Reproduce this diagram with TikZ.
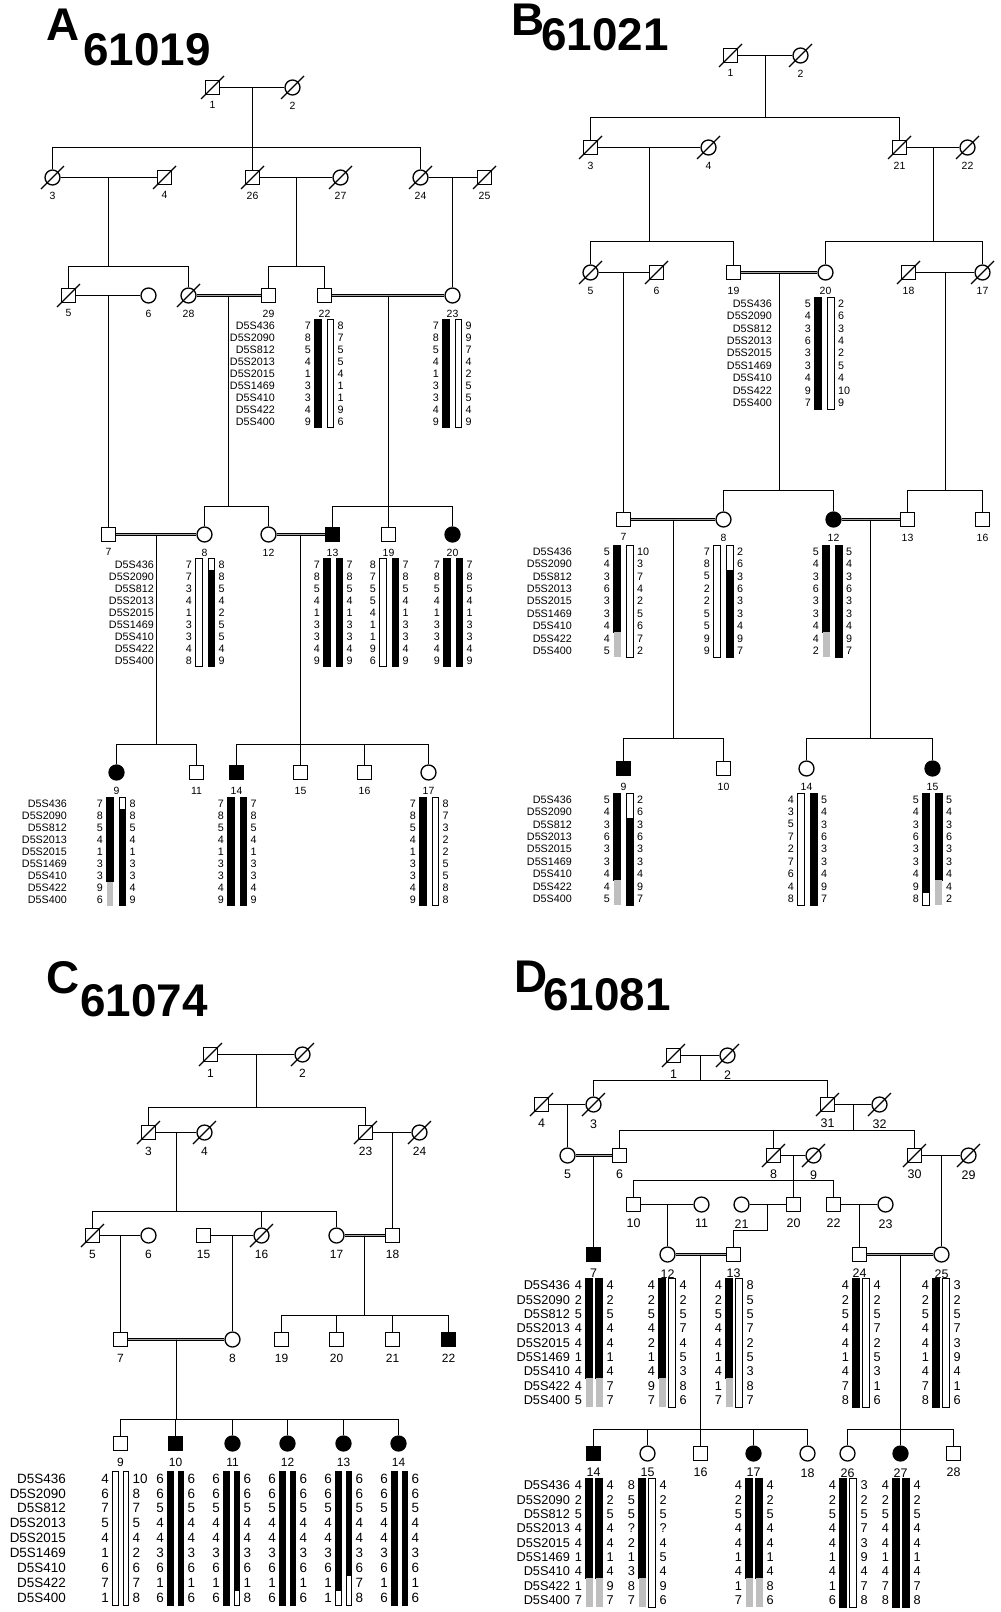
\documentclass[tikz,border=0pt]{standalone}
\usepackage{fontspec}
\setmainfont{Liberation Sans}
\usetikzlibrary{calc}

\tikzset{
  sq/.style={draw, rectangle, minimum size=14bp, inner sep=0pt, line width=1.3bp, fill=white},
  ci/.style={draw, circle, minimum size=15bp, inner sep=0pt, line width=1.3bp, fill=white},
  aff/.style={fill=black},
  lab/.style={font=\fontsize{10.5}{12}\selectfont},
  pid/.style={label={[lab]below:#1}},
  cons/.style={double=black!35, double distance=1.8bp, line width=0.9bp},
  hn/.style={inner sep=0pt, font=\fontsize{11}{12}\selectfont},
  hk/.style={fill=black, draw=black, line width=0.5bp},
  hg/.style={fill=black!25},
  hw/.style={fill=white, draw=black, line width=0.8bp},
  ttl/.style={inner sep=0pt, anchor=base west, font=\fontsize{46}{50}\selectfont\bfseries}
}

% marker names, right aligned
\newcommand\mknames[3]{%
  \foreach \mk [count=\i] in {D5S436,D5S2090,D5S812,D5S2013,D5S2015,D5S1469,D5S410,D5S422,D5S400}
    \node[hn, anchor=east] (#1\i) at ({#2},{#3+(\i-1)*\dy}) {\mk};}

% haplotype: name, bar x, first row y, left alleles, right alleles, bar parts
\newcommand\hap[7]{%
  \foreach \ty/\ra/\rb in {#6}
    \path[\ty] ({#2},{#3+(\ra-1.5)*\dy}) rectangle ({#2+\bw},{#3+(\rb-0.5)*\dy});
  \foreach \ty/\ra/\rb in {#7}
    \path[\ty] ({#2+\bp},{#3+(\ra-1.5)*\dy}) rectangle ({#2+\bp+\bw},{#3+(\rb-0.5)*\dy});
  \foreach \v [count=\i] in {#4}
    \node[hn, anchor=east] (#1l\i) at ({#2-3},{#3+(\i-1)*\dy}) {\v};
  \foreach \v [count=\i] in {#5}
    \node[hn, anchor=west] (#1r\i) at ({#2+\bp+\bw+3.5},{#3+(\i-1)*\dy}) {\v};}

% line of descent: parents, sibship y, children
\newcommand\kids[4]{%
  \coordinate (mid) at ($(#1)!0.5!(#2)$);
  \foreach \ch in {#4} \draw (mid) -- (mid |- 0,#3) -| (\ch.north);}

\begin{document}
\begin{tikzpicture}[x=1bp, y=-1bp, line width=1.3bp, label distance=5bp,
  every label/.style={inner sep=1pt}]
\useasboundingbox (-0.5,-0.5) rectangle (999.5,1611.5);

% ---------------- A
\begin{scope}[lab/.style={font=\fontsize{10.5}{12}\selectfont},
  hn/.style={inner sep=0pt, font=\fontsize{10.8}{12}\selectfont}]
\def\dy{12}\def\bw{6.5}\def\bp{12.5}
\node[ttl] (ta) at (45,40) {A};
\node[ttl] (tan) at (82,65) {61019};
% generation I and II
\node[sq, pid=1] (a1) at (212,87) {};
\node[ci, pid=2] (a2) at (292,87) {};
\node[ci, pid=3] (a3) at (52,177) {};
\node[sq, pid=4] (a4) at (164,177) {};
\node[sq, pid=26] (a26) at (252,177) {};
\node[ci, pid=27] (a27) at (340,177) {};
\node[ci, pid=24] (a24) at (420,177) {};
\node[sq, pid=25] (a25) at (484,177) {};
% generation III
\node[sq, pid=5] (a5) at (68,295) {};
\node[ci, pid=6] (a6) at (148,295) {};
\node[ci, pid=28] (a28) at (188,295) {};
\node[sq, pid=29] (a29) at (268,295) {};
\node[sq, pid=22] (a22) at (324,295) {};
\node[ci, pid=23] (a23) at (452,295) {};
% generation IV
\node[sq, pid=7] (a7) at (108,534) {};
\node[ci, pid=8] (a8) at (204,534) {};
\node[ci, pid=12] (a12) at (268,534) {};
\node[sq, aff, pid=13] (a13) at (332,534) {};
\node[sq, pid=19] (a19) at (388,534) {};
\node[ci, aff, pid=20] (a20) at (452,534) {};
% generation V
\node[ci, aff, pid=9] (a9) at (116,772) {};
\node[sq, pid=11] (a11) at (196,772) {};
\node[sq, aff, pid=14] (a14) at (236,772) {};
\node[sq, pid=15] (a15) at (300,772) {};
\node[sq, pid=16] (a16) at (364,772) {};
\node[ci, pid=17] (a17) at (428,772) {};
% deceased
\foreach \n in {a1,a2,a3,a4,a26,a27,a24,a25,a5,a28}
  \draw (\n.center) ++(-11.5bp,-11.5bp) -- ++(23bp,23bp);
% couples
\draw (a1) -- (a2);
\draw (a3) -- (a4);
\draw (a26) -- (a27);
\draw (a24) -- (a25);
\draw (a5) -- (a6);
\draw[cons] (a28) -- (a29);
\draw[cons] (a22) -- (a23);
\draw[cons] (a7) -- (a8);
\draw[cons] (a12) -- (a13);
% descent
\kids{a1}{a2}{147}{a3,a26,a24}
\kids{a3}{a4}{266}{a5,a28}
\kids{a26}{a27}{266}{a29,a22}
\kids{a24}{a25}{266}{a23}
\kids{a5}{a6}{400}{a7}
\kids{a28}{a29}{506}{a8,a12}
\kids{a22}{a23}{506}{a13,a19,a20}
\kids{a7}{a8}{744}{a9,a11}
\kids{a12}{a13}{744}{a14,a15,a16,a17}
% haplotypes
\mknames{a3g}{275}{325}
\hap{a22h}{314}{325}{7,8,5,4,1,3,3,4,9}{8,7,5,5,4,1,1,9,6}{hk/1/9}{hw/1/9}
\hap{a23h}{442}{325}{7,8,5,4,1,3,3,4,9}{9,9,7,4,2,5,5,4,9}{hk/1/9}{hw/1/9}
\mknames{a4g}{154}{564}
\hap{a8h}{195}{564}{7,7,3,4,1,3,3,4,8}{8,8,5,4,2,5,5,4,9}{hw/1/9}{hw/1/1,hk/2/9}
\hap{a13h}{323}{564}{7,8,5,4,1,3,3,4,9}{7,8,5,4,1,3,3,4,9}{hk/1/9}{hk/1/9}
\hap{a19h}{379}{564}{8,7,5,5,4,1,1,9,6}{7,8,5,4,1,3,3,4,9}{hw/1/9}{hk/1/9}
\hap{a20h}{443}{564}{7,8,5,4,1,3,3,4,9}{7,8,5,4,1,3,3,4,9}{hk/1/9}{hk/1/9}
\mknames{a5g}{67}{803}
\hap{a9h}{106}{803}{7,8,5,4,1,3,3,9,6}{8,8,5,4,1,3,3,4,9}{hk/1/7,hg/8/9}{hw/1/1,hk/2/9}
\hap{a14h}{227}{803}{7,8,5,4,1,3,3,4,9}{7,8,5,4,1,3,3,4,9}{hk/1/9}{hk/1/9}
\hap{a17h}{419}{803}{7,8,5,4,1,3,3,4,9}{8,7,3,2,2,5,5,8,8}{hk/1/9}{hw/1/9}
\end{scope}

% ---------------- B
\begin{scope}[lab/.style={font=\fontsize{10.5}{12}\selectfont},
  hn/.style={inner sep=0pt, font=\fontsize{10.8}{12}\selectfont}]
\def\dy{12.4}\def\bw{7}\def\bp{12.5}
\node[ttl] (tb) at (510,35) {B};
\node[ttl] (tbn) at (540,50) {61021};
% generation I and II
\node[sq, pid=1] (b1) at (730,55) {};
\node[ci, pid=2] (b2) at (800,55) {};
\node[sq, pid=3] (b3) at (590,147) {};
\node[ci, pid=4] (b4) at (708,147) {};
\node[sq, pid=21] (b21) at (899,147) {};
\node[ci, pid=22] (b22) at (967,147) {};
% generation III
\node[ci, pid=5] (b5) at (590,272) {};
\node[sq, pid=6] (b6) at (656,272) {};
\node[sq, pid=19] (b19) at (733,272) {};
\node[ci, pid=20] (b20) at (825,272) {};
\node[sq, pid=18] (b18) at (908,272) {};
\node[ci, pid=17] (b17) at (982,272) {};
% generation IV
\node[sq, pid=7] (b7) at (623,519) {};
\node[ci, pid=8] (b8) at (723,519) {};
\node[ci, aff, pid=12] (b12) at (833,519) {};
\node[sq, pid=13] (b13) at (907,519) {};
\node[sq, pid=16] (b16) at (982,519) {};
% generation V
\node[sq, aff, pid=9] (b9) at (623,768) {};
\node[sq, pid=10] (b10) at (723,768) {};
\node[ci, pid=14] (b14) at (806,768) {};
\node[ci, aff, pid=15] (b15) at (932,768) {};
% deceased
\foreach \n in {b1,b2,b3,b4,b21,b22,b5,b6,b18,b17}
  \draw (\n.center) ++(-11.5bp,-11.5bp) -- ++(23bp,23bp);
% couples
\draw (b1) -- (b2);
\draw (b3) -- (b4);
\draw (b21) -- (b22);
\draw (b5) -- (b6);
\draw[cons] (b19) -- (b20);
\draw (b18) -- (b17);
\draw[cons] (b7) -- (b8);
\draw[cons] (b12) -- (b13);
% descent
\kids{b1}{b2}{117}{b3,b21}
\kids{b3}{b4}{241}{b5,b19}
\kids{b21}{b22}{241}{b20,b17}
\kids{b5}{b6}{400}{b7}
\kids{b19}{b20}{490}{b8,b12}
\kids{b18}{b17}{490}{b13,b16}
\kids{b7}{b8}{738}{b9,b10}
\kids{b12}{b13}{738}{b14,b15}
% haplotypes
\mknames{b3g}{772}{303}
\hap{b20h}{814}{303}{5,4,3,6,3,3,4,9,7}{2,6,3,4,2,5,4,10,9}{hk/1/9}{hw/1/9}
\mknames{b4g}{572}{551}
\hap{b7h}{613}{551}{5,4,3,6,3,3,4,4,5}{10,3,7,4,2,5,6,7,2}{hk/1/7,hg/8/9}{hw/1/9}
\hap{b8h}{713}{551}{7,8,5,2,2,5,5,9,9}{2,6,3,6,3,3,4,9,7}{hw/1/9}{hw/1/2,hk/3/9}
\hap{b12h}{822}{551}{5,4,3,6,3,3,4,4,2}{5,4,3,6,3,3,4,9,7}{hk/1/7,hg/8/9}{hk/1/9}
\mknames{b5g}{572}{799}
\hap{b9h}{613}{799}{5,4,3,6,3,3,4,4,5}{2,6,3,6,3,3,4,9,7}{hk/1/7,hg/8/9}{hw/1/2,hk/3/9}
\hap{b14h}{797}{799}{4,3,5,7,2,7,6,4,8}{5,4,3,6,3,3,4,9,7}{hw/1/9}{hk/1/9}
\hap{b15h}{922}{799}{5,4,3,6,3,3,4,9,8}{5,4,3,6,3,3,4,4,2}{hk/1/8,hw/9/9}{hk/1/7,hg/8/9}
\end{scope}

% ---------------- C
\begin{scope}[lab/.style={font=\fontsize{12}{13}\selectfont},
  hn/.style={inner sep=0pt, font=\fontsize{13.5}{14}\selectfont}]
\def\dy{14.9}\def\bw{5.5}\def\bp{10.5}
\node[ttl] (tc) at (45,993) {C};
\node[ttl] (tcn) at (79,1016) {61074};
% generation I and II
\node[sq, pid=1] (c1) at (210,1054) {};
\node[ci, pid=2] (c2) at (302,1054) {};
\node[sq, pid=3] (c3) at (148,1132) {};
\node[ci, pid=4] (c4) at (204,1132) {};
\node[sq, pid=23] (c23) at (365,1132) {};
\node[ci, pid=24] (c24) at (419,1132) {};
% generation III
\node[sq, pid=5] (c5) at (92,1235) {};
\node[ci, pid=6] (c6) at (148,1235) {};
\node[sq, pid=15] (c15) at (203,1235) {};
\node[ci, pid=16] (c16) at (261,1235) {};
\node[ci, pid=17] (c17) at (336,1235) {};
\node[sq, pid=18] (c18) at (392,1235) {};
% generation IV
\node[sq, pid=7] (c7) at (120,1339) {};
\node[ci, pid=8] (c8) at (232,1339) {};
\node[sq, pid=19] (c19) at (281,1339) {};
\node[sq, pid=20] (c20) at (336,1339) {};
\node[sq, pid=21] (c21) at (392,1339) {};
\node[sq, aff, pid=22] (c22) at (448,1339) {};
% generation V
\node[sq, pid=9] (c9) at (120,1443) {};
\node[sq, aff, pid=10] (c10) at (175,1443) {};
\node[ci, aff, pid=11] (c11) at (232,1443) {};
\node[ci, aff, pid=12] (c12) at (287,1443) {};
\node[ci, aff, pid=13] (c13) at (343,1443) {};
\node[ci, aff, pid=14] (c14) at (398,1443) {};
% deceased
\foreach \n in {c1,c2,c3,c4,c23,c24,c5,c16}
  \draw (\n.center) ++(-11.5bp,-11.5bp) -- ++(23bp,23bp);
% couples
\draw (c1) -- (c2);
\draw (c3) -- (c4);
\draw (c23) -- (c24);
\draw (c5) -- (c6);
\draw (c15) -- (c16);
\draw[cons] (c17) -- (c18);
\draw[cons] (c7) -- (c8);
% descent
\kids{c1}{c2}{1107}{c3,c23}
\kids{c3}{c4}{1211}{c5,c16,c17}
\kids{c23}{c24}{1200}{c18}
\kids{c5}{c6}{1300}{c7}
\kids{c15}{c16}{1300}{c8}
\kids{c17}{c18}{1315}{c19,c20,c21,c22}
\kids{c7}{c8}{1419}{c9,c10,c11,c12,c13,c14}
% haplotypes
\mknames{c5g}{66}{1478}
\hap{c9h}{112}{1478}{4,6,7,5,4,1,6,7,1}{10,8,7,5,4,2,6,7,8}{hw/1/9}{hw/1/9}
\hap{c10h}{167}{1478}{6,6,5,4,4,3,6,1,6}{6,6,5,4,4,3,6,1,6}{hk/1/9}{hk/1/9}
\hap{c11h}{223}{1478}{6,6,5,4,4,3,6,1,6}{6,6,5,4,4,3,6,1,8}{hk/1/9}{hk/1/8,hw/9/9}
\hap{c12h}{279}{1478}{6,6,5,4,4,3,6,1,6}{6,6,5,4,4,3,6,1,6}{hk/1/9}{hk/1/9}
\hap{c13h}{335}{1478}{6,6,5,4,4,3,6,1,1}{6,6,5,4,4,3,6,7,8}{hk/1/8,hw/9/9}{hk/1/7,hw/8/9}
\hap{c14h}{391}{1478}{6,6,5,4,4,3,6,1,6}{6,6,5,4,4,3,6,1,6}{hk/1/9}{hk/1/9}
\end{scope}

% ---------------- D
\begin{scope}[lab/.style={font=\fontsize{12.5}{13}\selectfont},
  hn/.style={inner sep=0pt, font=\fontsize{12.8}{14}\selectfont}]
\def\dy{14.3}\def\bw{7}\def\bp{10}
\node[ttl] (td) at (513,992) {D};
\node[ttl] (tdn) at (542,1010) {61081};
% generation I and II
\node[sq, pid=1] (d1) at (673,1055) {};
\node[ci, pid=2] (d2) at (727,1055) {};
\node[sq, pid=4] (d4) at (541,1104) {};
\node[ci, pid=3] (d3) at (593,1104) {};
\node[sq, pid=31] (d31) at (827,1104) {};
\node[ci, pid=32] (d32) at (879,1104) {};
% generation III
\node[ci, pid=5] (d5) at (567,1155) {};
\node[sq, pid=6] (d6) at (619,1155) {};
\node[sq, pid=8] (d8) at (773,1155) {};
\node[ci, pid=9] (d9) at (813,1155) {};
\node[sq, pid=30] (d30) at (914,1155) {};
\node[ci, pid=29] (d29) at (968,1155) {};
% generation IV
\node[sq, pid=10] (d10) at (633,1204) {};
\node[ci, pid=11] (d11) at (701,1204) {};
\node[ci, pid=21] (d21) at (741,1204) {};
\node[sq, pid=20] (d20) at (793,1204) {};
\node[sq, pid=22] (d22) at (833,1204) {};
\node[ci, pid=23] (d23) at (885,1204) {};
% generation V
\node[sq, aff, pid=7] (d7) at (593,1254) {};
\node[ci, pid=12] (d12) at (667,1254) {};
\node[sq, pid=13] (d13) at (733,1254) {};
\node[sq, pid=24] (d24) at (859,1254) {};
\node[ci, pid=25] (d25) at (941,1254) {};
% generation VI
\node[sq, aff, pid=14] (d14) at (593,1453) {};
\node[ci, pid=15] (d15) at (647,1453) {};
\node[sq, pid=16] (d16) at (700,1453) {};
\node[ci, aff, pid=17] (d17) at (753,1453) {};
\node[ci, pid=18] (d18) at (807,1453) {};
\node[ci, pid=26] (d26) at (847,1453) {};
\node[ci, aff, pid=27] (d27) at (900,1453) {};
\node[sq, pid=28] (d28) at (953,1453) {};
% deceased
\foreach \n in {d1,d2,d4,d3,d31,d32,d8,d9,d30,d29}
  \draw (\n.center) ++(-11.5bp,-11.5bp) -- ++(23bp,23bp);
% couples
\draw (d1) -- (d2);
\draw (d4) -- (d3);
\draw (d31) -- (d32);
\draw[cons] (d5) -- (d6);
\draw (d8) -- (d9);
\draw (d30) -- (d29);
\draw (d10) -- (d11);
\draw (d21) -- (d20);
\draw (d22) -- (d23);
\draw[cons] (d12) -- (d13);
\draw[cons] (d24) -- (d25);
% descent
\kids{d1}{d2}{1080}{d3,d31}
\kids{d4}{d3}{1125}{d5}
\kids{d31}{d32}{1130}{d6,d8,d30}
\kids{d5}{d6}{1200}{d7}
\kids{d8}{d9}{1180}{d10,d20,d22}
\kids{d30}{d29}{1200}{d25}
\kids{d10}{d11}{1230}{d12}
\kids{d21}{d20}{1230}{d13}
\kids{d22}{d23}{1230}{d24}
\kids{d12}{d13}{1429}{d14,d15,d16,d17,d18}
\kids{d24}{d25}{1429}{d26,d27,d28}
% haplotypes
\mknames{d5g}{570}{1285}
\hap{d7h}{585}{1285}{4,2,5,4,4,1,4,4,5}{4,2,5,4,4,1,4,7,7}{hk/1/7,hg/8/9}{hk/1/7,hg/8/9}
\hap{d12h}{658}{1285}{4,2,5,4,2,1,4,9,7}{4,2,5,7,4,5,3,8,6}{hk/1/7,hg/8/9}{hw/1/9}
\hap{d13h}{725}{1285}{4,2,5,4,4,1,4,1,7}{8,5,5,7,2,5,3,8,7}{hk/1/7,hg/8/9}{hw/1/9}
\hap{d24h}{852}{1285}{4,2,5,4,4,1,4,7,8}{4,2,5,7,2,5,3,1,6}{hk/1/9}{hw/1/9}
\hap{d25h}{932}{1285}{4,2,5,4,4,1,4,7,8}{3,2,5,7,3,9,4,1,6}{hk/1/9}{hw/1/9}
\mknames{d6g}{570}{1485}
\hap{d14h}{585}{1485}{4,2,5,4,4,1,4,1,7}{4,2,5,4,4,1,4,9,7}{hk/1/7,hg/8/9}{hk/1/7,hg/8/9}
\hap{d15h}{638}{1485}{8,5,5,?,2,1,3,8,7}{4,2,5,?,4,5,4,9,6}{hk/1/7,hg/8/9}{hw/1/9}
\hap{d17h}{745}{1485}{4,2,5,4,4,1,4,1,7}{4,2,5,4,4,1,4,8,6}{hk/1/7,hg/8/9}{hk/1/7,hg/8/9}
\hap{d26h}{839}{1485}{4,2,5,4,4,1,4,1,6}{3,2,5,7,3,9,4,7,8}{hk/1/9}{hw/1/9}
\hap{d27h}{892}{1485}{4,2,5,4,4,1,4,7,8}{4,2,5,4,4,1,4,7,8}{hk/1/9}{hk/1/9}
\end{scope}
\end{tikzpicture}
\end{document}
